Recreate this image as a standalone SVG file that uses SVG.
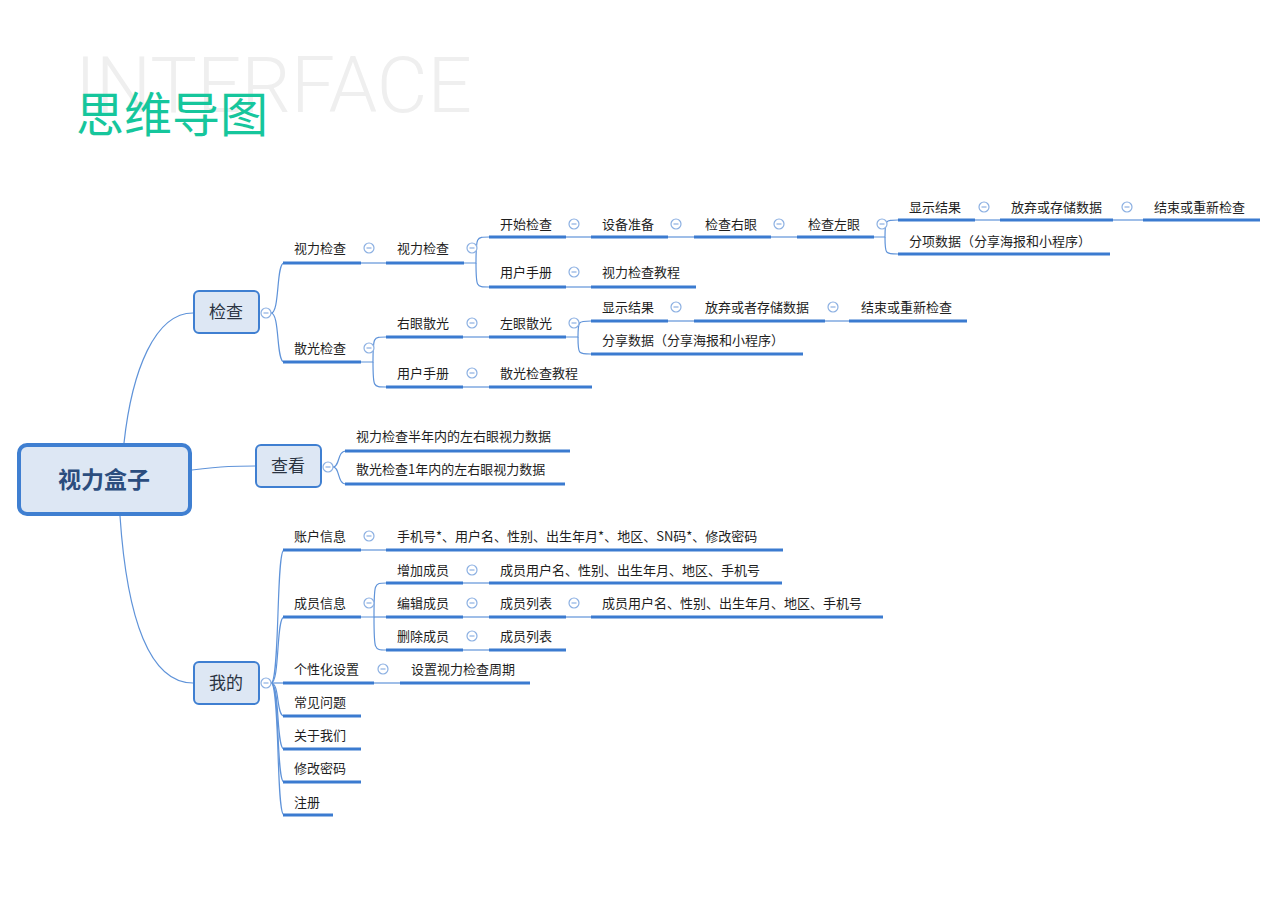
<svg xmlns="http://www.w3.org/2000/svg" width="1280" height="905" viewBox="0 0 1280 905">
<defs>
<style>
.bg{fill:#ffffff}
.t{font-family:"Noto Sans CJK SC","Liberation Sans",sans-serif;font-size:13px;fill:#1e1e1e}
.ul{stroke:#3b7bd0;stroke-width:3;fill:none}
.c{stroke:#5f93d9;stroke-width:1.2;fill:none}
.ci{fill:#ffffff;stroke:#8cb0e2;stroke-width:1.2}
.cm{stroke:#8cb0e2;stroke-width:1.2}
.l1{fill:#dde7f4;stroke:#3f7fd1;stroke-width:2}
.l1t{font-family:"Noto Sans CJK SC","Liberation Sans",sans-serif;font-size:17px;fill:#2a3342;text-anchor:middle}
</style>
</defs>
<rect class="bg" x="0" y="0" width="1280" height="905"/>
<text x="75" y="112" font-family="Roboto,'Liberation Sans',sans-serif" font-weight="300" font-size="77" fill="#efefef" textLength="397" lengthAdjust="spacingAndGlyphs">INTERFACE</text>
<text x="76" y="132" font-family="'Noto Sans CJK SC',sans-serif" font-size="48" fill="#16c69c" textLength="192" lengthAdjust="spacingAndGlyphs">思维导图</text>

<g id="connectors">
<path class="c" d="M124,443 C132,370 155,313 193,313"/>
<path class="c" d="M192,470 C225,466 235,466 255,466"/>
<path class="c" d="M120,516 C127,620 150,683 193,683"/>
<path class="c" d="M271,313 C280,313 276,263 284,263"/>
<path class="c" d="M271,313 C280,313 276,362 284,362"/>
<path class="c" d="M361,263 H386"/>
<path class="c" d="M464,263 H476 C476,237 476,237 489,237"/>
<path class="c" d="M476,263 C476,287 476,287 489,287"/>
<path class="c" d="M566,237 H591"/>
<path class="c" d="M668,237 H694"/>
<path class="c" d="M771,237 H797"/>
<path class="c" d="M874,237 H885 C885,220 885,220 898,220"/>
<path class="c" d="M885,237 C885,254 885,254 898,254"/>
<path class="c" d="M975,220 H1000"/>
<path class="c" d="M1113,220 H1143"/>
<path class="c" d="M566,287 H591"/>
<path class="c" d="M361,362 H373 C373,337 373,337 386,337"/>
<path class="c" d="M373,362 C373,387 373,387 386,387"/>
<path class="c" d="M463,337 H489"/>
<path class="c" d="M566,337 H578 C578,321 578,321 591,321"/>
<path class="c" d="M578,337 C578,354 578,354 591,354"/>
<path class="c" d="M668,321 H694"/>
<path class="c" d="M825,321 H849"/>
<path class="c" d="M463,387 H489"/>
<path class="c" d="M333,467 C340,467 337,451 346,451"/>
<path class="c" d="M333,467 C340,467 337,484 346,484"/>
<path class="c" d="M271,683 C280,683 276,550 284,550"/>
<path class="c" d="M271,683 C280,683 276,617 284,617"/>
<path class="c" d="M271,683 H284"/>
<path class="c" d="M271,683 C280,683 276,716 284,716"/>
<path class="c" d="M271,683 C280,683 276,749 284,749"/>
<path class="c" d="M271,683 C280,683 276,782 284,782"/>
<path class="c" d="M271,683 C280,683 276,815 284,815"/>
<path class="c" d="M361,550 H386"/>
<path class="c" d="M361,617 H374 C374,583 374,583 386,583"/>
<path class="c" d="M374,617 H386"/>
<path class="c" d="M374,617 C374,650 374,650 386,650"/>
<path class="c" d="M463,583 H489"/>
<path class="c" d="M463,617 H489"/>
<path class="c" d="M566,617 H591"/>
<path class="c" d="M463,650 H489"/>
<path class="c" d="M374,683 H400"/>
</g>

<g id="root">
<rect x="19" y="445" width="171" height="69" rx="8" fill="#dde7f4" stroke="#3f7fd1" stroke-width="4"/>
<text x="104" y="488" text-anchor="middle" font-family="'Noto Sans CJK SC','Liberation Sans',sans-serif" font-size="23" font-weight="bold" fill="#2b4d7e">视力盒子</text>
</g>

<g id="n-jiancha">
<rect class="l1" x="194" y="291" width="65" height="42" rx="5"/>
<text class="l1t" x="226" y="318">检查</text>
<circle class="ci" cx="266" cy="313" r="5"/><line class="cm" x1="263.5" y1="313" x2="268.5" y2="313"/>
</g>
<g id="n-chakan">
<rect class="l1" x="256" y="445" width="65" height="42" rx="5"/>
<text class="l1t" x="288" y="472">查看</text>
<circle class="ci" cx="328" cy="467" r="5"/><line class="cm" x1="325.5" y1="467" x2="330.5" y2="467"/>
</g>
<g id="n-wode">
<rect class="l1" x="194" y="662" width="65" height="42" rx="5"/>
<text class="l1t" x="226" y="689">我的</text>
<circle class="ci" cx="266" cy="683" r="5"/><line class="cm" x1="263.5" y1="683" x2="268.5" y2="683"/>
</g>

<g id="n-sl1"><text class="t" x="294" y="253">视力检查</text><line class="ul" x1="283" y1="263" x2="361" y2="263"/><circle class="ci" cx="369" cy="248" r="5"/><line class="cm" x1="366.5" y1="248" x2="371.5" y2="248"/></g>
<g id="n-sl2"><text class="t" x="397" y="253">视力检查</text><line class="ul" x1="386" y1="263" x2="464" y2="263"/><circle class="ci" cx="472" cy="248" r="5"/><line class="cm" x1="469.5" y1="248" x2="474.5" y2="248"/></g>
<g id="n-ks"><text class="t" x="500" y="229">开始检查</text><line class="ul" x1="489" y1="237" x2="566" y2="237"/><circle class="ci" cx="574" cy="224" r="5"/><line class="cm" x1="571.5" y1="224" x2="576.5" y2="224"/></g>
<g id="n-sb"><text class="t" x="602" y="229">设备准备</text><line class="ul" x1="591" y1="237" x2="668" y2="237"/><circle class="ci" cx="676" cy="224" r="5"/><line class="cm" x1="673.5" y1="224" x2="678.5" y2="224"/></g>
<g id="n-jy"><text class="t" x="705" y="229">检查右眼</text><line class="ul" x1="694" y1="237" x2="771" y2="237"/><circle class="ci" cx="779" cy="224" r="5"/><line class="cm" x1="776.5" y1="224" x2="781.5" y2="224"/></g>
<g id="n-jz"><text class="t" x="808" y="229">检查左眼</text><line class="ul" x1="797" y1="237" x2="874" y2="237"/><circle class="ci" cx="882" cy="224" r="5"/><line class="cm" x1="879.5" y1="224" x2="884.5" y2="224"/></g>
<g id="n-xs1"><text class="t" x="909" y="212">显示结果</text><line class="ul" x1="898" y1="220" x2="975" y2="220"/><circle class="ci" cx="984" cy="207" r="5"/><line class="cm" x1="981.5" y1="207" x2="986.5" y2="207"/></g>
<g id="n-fq1"><text class="t" x="1011" y="212">放弃或存储数据</text><line class="ul" x1="1000" y1="220" x2="1113" y2="220"/><circle class="ci" cx="1127" cy="207" r="5"/><line class="cm" x1="1124.5" y1="207" x2="1129.5" y2="207"/></g>
<g id="n-js1"><text class="t" x="1154" y="212">结束或重新检查</text><line class="ul" x1="1143" y1="220" x2="1260" y2="220"/></g>
<g id="n-fx1"><text class="t" x="909" y="246">分项数据（分享海报和小程序）</text><line class="ul" x1="898" y1="254" x2="1110" y2="254"/></g>
<g id="n-sc1"><text class="t" x="500" y="277">用户手册</text><line class="ul" x1="489" y1="287" x2="566" y2="287"/><circle class="ci" cx="574" cy="272" r="5"/><line class="cm" x1="571.5" y1="272" x2="576.5" y2="272"/></g>
<g id="n-jc1"><text class="t" x="602" y="277">视力检查教程</text><line class="ul" x1="591" y1="287" x2="696" y2="287"/></g>

<g id="n-sg"><text class="t" x="294" y="353">散光检查</text><line class="ul" x1="283" y1="362" x2="361" y2="362"/><circle class="ci" cx="369" cy="348" r="5"/><line class="cm" x1="366.5" y1="348" x2="371.5" y2="348"/></g>
<g id="n-yy"><text class="t" x="397" y="328">右眼散光</text><line class="ul" x1="386" y1="337" x2="463" y2="337"/><circle class="ci" cx="472" cy="323" r="5"/><line class="cm" x1="469.5" y1="323" x2="474.5" y2="323"/></g>
<g id="n-zy"><text class="t" x="500" y="328">左眼散光</text><line class="ul" x1="489" y1="337" x2="566" y2="337"/><circle class="ci" cx="574" cy="323" r="5"/><line class="cm" x1="571.5" y1="323" x2="576.5" y2="323"/></g>
<g id="n-xs2"><text class="t" x="602" y="312">显示结果</text><line class="ul" x1="591" y1="321" x2="668" y2="321"/><circle class="ci" cx="676" cy="307" r="5"/><line class="cm" x1="673.5" y1="307" x2="678.5" y2="307"/></g>
<g id="n-fq2"><text class="t" x="705" y="312">放弃或者存储数据</text><line class="ul" x1="694" y1="321" x2="825" y2="321"/><circle class="ci" cx="833" cy="307" r="5"/><line class="cm" x1="830.5" y1="307" x2="835.5" y2="307"/></g>
<g id="n-js2"><text class="t" x="861" y="312">结束或重新检查</text><line class="ul" x1="849" y1="321" x2="967" y2="321"/></g>
<g id="n-fx2"><text class="t" x="602" y="345">分享数据（分享海报和小程序）</text><line class="ul" x1="591" y1="354" x2="803" y2="354"/></g>
<g id="n-sc2"><text class="t" x="397" y="378">用户手册</text><line class="ul" x1="386" y1="387" x2="463" y2="387"/><circle class="ci" cx="472" cy="373" r="5"/><line class="cm" x1="469.5" y1="373" x2="474.5" y2="373"/></g>
<g id="n-jc2"><text class="t" x="500" y="378">散光检查教程</text><line class="ul" x1="489" y1="387" x2="592" y2="387"/></g>

<g id="n-v1"><text class="t" x="356" y="441">视力检查半年内的左右眼视力数据</text><line class="ul" x1="345" y1="451" x2="570" y2="451"/></g>
<g id="n-v2"><text class="t" x="356" y="474">散光检查1年内的左右眼视力数据</text><line class="ul" x1="345" y1="484" x2="565" y2="484"/></g>

<g id="n-zh"><text class="t" x="294" y="541">账户信息</text><line class="ul" x1="283" y1="550" x2="361" y2="550"/><circle class="ci" cx="369" cy="536" r="5"/><line class="cm" x1="366.5" y1="536" x2="371.5" y2="536"/></g>
<g id="n-zh2"><text class="t" x="397" y="541">手机号*、用户名、性别、出生年月*、地区、SN码*、修改密码</text><line class="ul" x1="386" y1="550" x2="783" y2="550"/></g>
<g id="n-cy"><text class="t" x="294" y="608">成员信息</text><line class="ul" x1="283" y1="617" x2="361" y2="617"/><circle class="ci" cx="369" cy="603" r="5"/><line class="cm" x1="366.5" y1="603" x2="371.5" y2="603"/></g>
<g id="n-zj"><text class="t" x="397" y="575">增加成员</text><line class="ul" x1="386" y1="583" x2="463" y2="583"/><circle class="ci" cx="472" cy="570" r="5"/><line class="cm" x1="469.5" y1="570" x2="474.5" y2="570"/></g>
<g id="n-zj2"><text class="t" x="500" y="575">成员用户名、性别、出生年月、地区、手机号</text><line class="ul" x1="489" y1="583" x2="782" y2="583"/></g>
<g id="n-bj"><text class="t" x="397" y="608">编辑成员</text><line class="ul" x1="386" y1="617" x2="463" y2="617"/><circle class="ci" cx="472" cy="603" r="5"/><line class="cm" x1="469.5" y1="603" x2="474.5" y2="603"/></g>
<g id="n-lb"><text class="t" x="500" y="608">成员列表</text><line class="ul" x1="489" y1="617" x2="566" y2="617"/><circle class="ci" cx="574" cy="603" r="5"/><line class="cm" x1="571.5" y1="603" x2="576.5" y2="603"/></g>
<g id="n-lb2"><text class="t" x="602" y="608">成员用户名、性别、出生年月、地区、手机号</text><line class="ul" x1="591" y1="617" x2="883" y2="617"/></g>
<g id="n-sc"><text class="t" x="397" y="641">删除成员</text><line class="ul" x1="386" y1="650" x2="463" y2="650"/><circle class="ci" cx="472" cy="636" r="5"/><line class="cm" x1="469.5" y1="636" x2="474.5" y2="636"/></g>
<g id="n-lb3"><text class="t" x="500" y="641">成员列表</text><line class="ul" x1="489" y1="650" x2="566" y2="650"/></g>
<g id="n-gx"><text class="t" x="294" y="674">个性化设置</text><line class="ul" x1="283" y1="683" x2="374" y2="683"/><circle class="ci" cx="383" cy="669" r="5"/><line class="cm" x1="380.5" y1="669" x2="385.5" y2="669"/></g>
<g id="n-gx2"><text class="t" x="411" y="674">设置视力检查周期</text><line class="ul" x1="400" y1="683" x2="530" y2="683"/></g>
<g id="n-cj"><text class="t" x="294" y="707">常见问题</text><line class="ul" x1="283" y1="716" x2="361" y2="716"/></g>
<g id="n-gy"><text class="t" x="294" y="740">关于我们</text><line class="ul" x1="283" y1="749" x2="361" y2="749"/></g>
<g id="n-xg"><text class="t" x="294" y="773">修改密码</text><line class="ul" x1="283" y1="782" x2="361" y2="782"/></g>
<g id="n-zc"><text class="t" x="294" y="807">注册</text><line class="ul" x1="283" y1="815" x2="333" y2="815"/></g>
</svg>
